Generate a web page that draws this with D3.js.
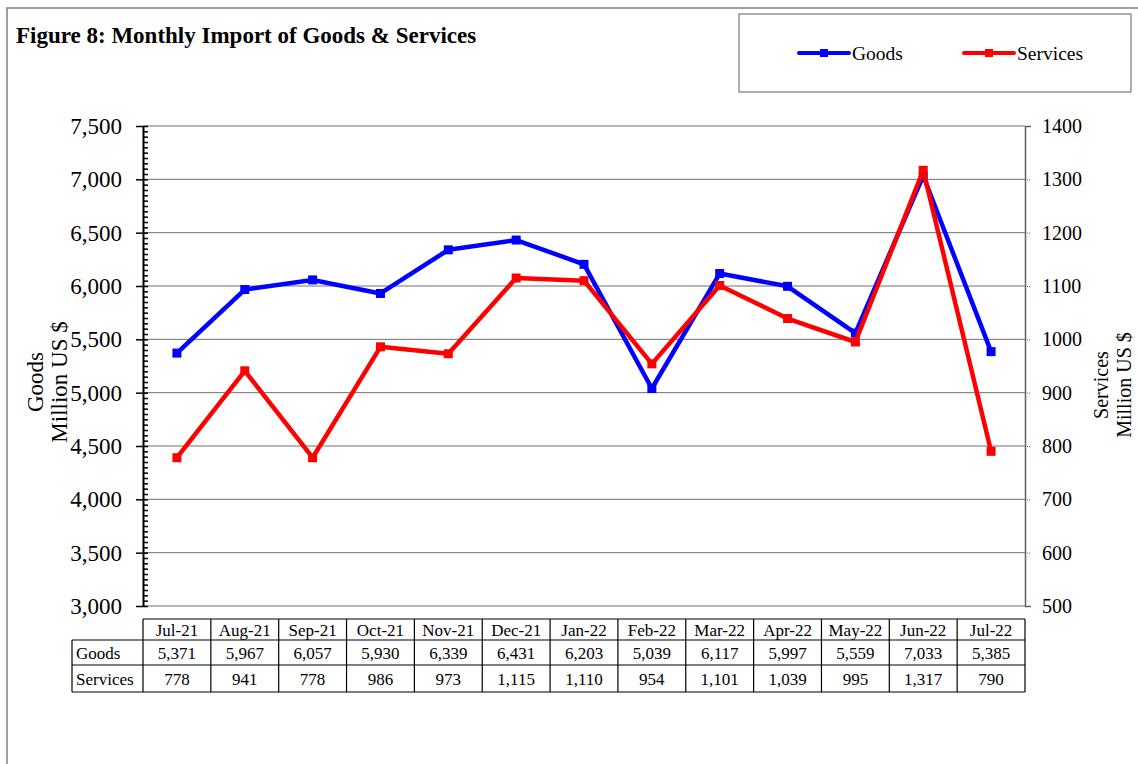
<!DOCTYPE html>
<html>
<head>
<meta charset="utf-8">
<script src="https://cdn.jsdelivr.net/npm/d3@7"></script>
<style>
  body { margin: 0; background: #fff; }
  text { font-family: "Liberation Serif", "Times New Roman", serif; fill: #000; }
</style>
</head>
<body>
<div id="chart"></div>
<script>
// dades
const mesos = ["Jul-21", "Aug-21", "Sep-21", "Oct-21", "Nov-21", "Dec-21", "Jan-22",
               "Feb-22", "Mar-22", "Apr-22", "May-22", "Jun-22", "Jul-22"];
const goods = [5371, 5967, 6057, 5930, 6339, 6431, 6203, 5039, 6117, 5997, 5559, 7033, 5385];
const services = [778, 941, 778, 986, 973, 1115, 1110, 954, 1101, 1039, 995, 1317, 790];
const goodsTicks = [3000, 3500, 4000, 4500, 5000, 5500, 6000, 6500, 7000, 7500];
const servicesTicks = [500, 600, 700, 800, 900, 1000, 1100, 1200, 1300, 1400];

const W = 1138, H = 764;
const plot = { left: 143, right: 1025, top: 126, bottom: 606 };
const serif = '"Liberation Serif", "Times New Roman", serif';

const svg = d3.select("#chart").append("svg")
    .attr("width", W).attr("height", H);

// marc exterior
svg.append("path")
    .attr("d", `M7,${H} L7,8 L${W},8`)
    .attr("fill", "none").attr("stroke", "#808080").attr("stroke-width", 1.5);

// titol
svg.append("text")
    .attr("x", 16).attr("y", 43)
    .style("font-size", "23px").style("font-weight", "bold")
    .text("Figure 8: Monthly Import of Goods & Services");

// escales
const x = d3.scaleBand().domain(mesos).range([plot.left, plot.right]);
const yG = d3.scaleLinear().domain([3000, 7500]).range([plot.bottom, plot.top]);
const yS = d3.scaleLinear().domain([500, 1400]).range([plot.bottom, plot.top]);

// graella
svg.append("g").selectAll("line")
    .data(goodsTicks)
    .enter().append("line")
    .attr("x1", plot.left).attr("x2", plot.right)
    .attr("y1", d => yG(d)).attr("y2", d => yG(d))
    .attr("stroke", "#707070").attr("stroke-width", 1);

// eix dret (serveis)
const eixS = svg.append("g")
    .attr("transform", `translate(${plot.right},0)`)
    .call(d3.axisRight(yS).tickValues(servicesTicks).tickSize(6).tickPadding(11).tickFormat(d3.format("d")));
eixS.attr("font-family", serif);
eixS.select(".domain").attr("stroke", "#606060").attr("stroke-width", 1.5);
eixS.selectAll(".tick line").attr("stroke", "#606060").attr("stroke-dasharray", "1,1");
eixS.selectAll("text").style("font-size", "20px");

// eix esquerre (bens) - ticks menors
svg.append("g")
    .attr("transform", `translate(${plot.left},0)`)
    .call(d3.axisRight(yG).tickValues(d3.range(3000, 7501, 50)).tickSize(5).tickFormat(""))
    .call(g => g.select(".domain").remove())
    .selectAll("line").attr("stroke", "#000").attr("stroke-width", 1.5);

const eixG = svg.append("g")
    .attr("transform", `translate(${plot.left},0)`)
    .call(d3.axisLeft(yG).tickValues(goodsTicks).tickSize(7).tickSizeOuter(0).tickPadding(14).tickFormat(d3.format(",")));
eixG.attr("font-family", serif);
eixG.select(".domain").attr("stroke", "#000").attr("stroke-width", 2);
eixG.selectAll(".tick line").attr("stroke", "#000").attr("stroke-width", 1.5);
eixG.selectAll("text").style("font-size", "23px");

// titols dels eixos
const titolG = svg.append("text")
    .attr("transform", `translate(43, 382) rotate(-90)`)
    .attr("text-anchor", "middle")
    .style("font-size", "23px");
titolG.append("tspan").attr("x", 0).attr("dy", 0).text("Goods");
titolG.append("tspan").attr("x", 0).attr("dy", 24).text("Million US $");

const titolS = svg.append("text")
    .attr("transform", `translate(1108, 385) rotate(-90)`)
    .attr("text-anchor", "middle")
    .style("font-size", "20px");
titolS.append("tspan").attr("x", 0).attr("dy", 0).text("Services");
titolS.append("tspan").attr("x", 0).attr("dy", 23).text("Million US $");

// linies
const cx = d => x(d) + x.bandwidth() / 2;
const series = [
    { nom: "Goods", color: "#0000ff", vals: goods, y: yG },
    { nom: "Services", color: "#ff0000", vals: services, y: yS }
];

series.forEach(s => {
    const line = d3.line()
        .x((d, i) => cx(mesos[i]))
        .y(d => s.y(d));
    svg.append("path")
        .datum(s.vals)
        .attr("d", line)
        .attr("fill", "none")
        .attr("stroke", s.color)
        .attr("stroke-width", 4.5)
        .attr("stroke-linejoin", "round");
    svg.append("g").selectAll("rect")
        .data(s.vals)
        .enter().append("rect")
        .attr("x", (d, i) => cx(mesos[i]) - 4.5)
        .attr("y", d => s.y(d) - 4.5)
        .attr("width", 9).attr("height", 9)
        .attr("fill", s.color);
});

// llegenda
svg.append("rect")
    .attr("x", 739).attr("y", 14).attr("width", 392).attr("height", 78)
    .attr("fill", "#fff").attr("stroke", "#606060").attr("stroke-width", 1);
const legX = [799, 964];
series.forEach((s, i) => {
    const g = svg.append("g").attr("transform", `translate(${legX[i]}, 53)`);
    g.append("line").attr("x1", 0).attr("x2", 50).attr("y1", 0).attr("y2", 0)
        .attr("stroke", s.color).attr("stroke-width", 4).attr("stroke-linecap", "round");
    g.append("rect").attr("x", 21).attr("y", -4).attr("width", 8).attr("height", 8).attr("fill", s.color);
    g.append("text").attr("x", 53).attr("y", 7).style("font-size", "19.5px").text(s.nom);
});

// taula de dades
const rows = [619, 640, 665, 692];
const labelLeft = 72;
const taula = svg.append("g").attr("stroke", "#000").attr("stroke-width", 1.2);
// linies horitzontals
taula.append("line").attr("x1", plot.left).attr("x2", plot.right).attr("y1", rows[0]).attr("y2", rows[0]);
rows.slice(1).forEach(r => {
    taula.append("line").attr("x1", labelLeft).attr("x2", plot.right).attr("y1", r).attr("y2", r);
});
// linies verticals
taula.append("line").attr("x1", labelLeft).attr("x2", labelLeft).attr("y1", rows[1]).attr("y2", rows[3]);
mesos.forEach(m => {
    taula.append("line").attr("x1", x(m)).attr("x2", x(m)).attr("y1", rows[0]).attr("y2", rows[3]);
});
taula.append("line").attr("x1", plot.right).attr("x2", plot.right).attr("y1", rows[0]).attr("y2", rows[3]);

const fmt = d3.format(",");
const textRow = (vals, rowIdx) => {
    svg.append("g").selectAll("text")
        .data(vals)
        .enter().append("text")
        .attr("x", (d, i) => cx(mesos[i]))
        .attr("y", (rows[rowIdx] + rows[rowIdx + 1]) / 2 + 6)
        .attr("text-anchor", "middle")
        .style("font-size", "17px")
        .text(d => d);
};
textRow(mesos, 0);
textRow(goods.map(fmt), 1);
textRow(services.map(fmt), 2);
["Goods", "Services"].forEach((t, i) => {
    svg.append("text")
        .attr("x", 76).attr("y", (rows[i + 1] + rows[i + 2]) / 2 + 6)
        .style("font-size", "17px")
        .text(t);
});
</script>
</body>
</html>
